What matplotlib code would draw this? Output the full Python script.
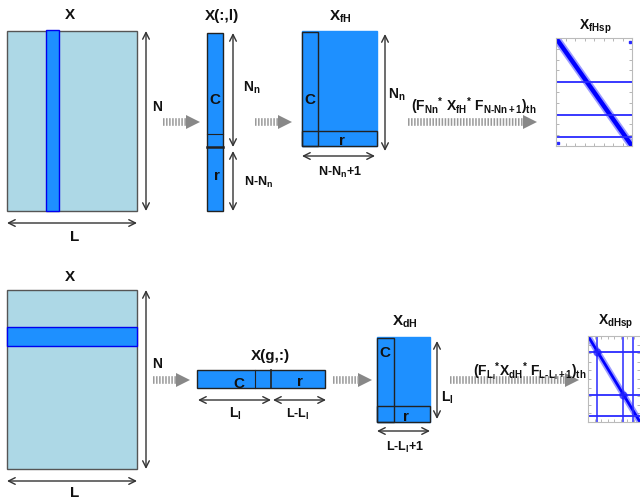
import matplotlib
matplotlib.use('Agg')
import matplotlib.pyplot as plt
from matplotlib.patches import Rectangle, Polygon

plt.rcParams['font.family'] = ['Liberation Sans', 'DejaVu Sans']
plt.rcParams['font.weight'] = 'bold'
plt.rcParams['mathtext.fontset'] = 'custom'
plt.rcParams['mathtext.bf'] = 'Liberation Sans:bold'
plt.rcParams['mathtext.rm'] = 'Liberation Sans:bold'
plt.rcParams['mathtext.it'] = 'Liberation Sans:bold'
plt.rcParams['mathtext.default'] = 'bf'

# labels of the two pipelines
titles_top = ['X', 'X(:,l)', r'$X_{fH}$', r'$X_{fHsp}$']
titles_bot = ['X', 'X(g,:)', r'$X_{dH}$', r'$X_{dHsp}$']
dims_top = ['N', 'L', r'$N_n$', r'$N$-$N_n$', r'$N_n$', r'$N$-$N_n$+1']
dims_bot = ['N', 'L', r'$L_l$', r'$L$-$L_l$', r'$L_l$', r'$L$-$L_l$+1']
formula_top = r'$(F_{Nn}{}^{*}\ X_{fH}{}^{*}\ F_{N\text{-}Nn+1})_{th}$'
formula_bot = r'$(F_{L_l}{}^{*}X_{dH}{}^{*}\ F_{L\text{-}L_l+1})_{th}$'
blocks = ['C', 'r']

# sparse pattern structure (fractions of matrix size)
top_rows = [0.41, 0.71, 0.92]
top_dots = [(0.98, 0.04), (0.02, 0.97)]
bot_rows = [0.19, 0.69, 0.93]
bot_cols = [0.17, 0.67, 0.87]
bot_blobs = [(0.17, 0.19), (0.67, 0.69)]

LB = '#ADD8E6'
DB = '#1E90FF'
DK = '#222222'

fig = plt.figure(figsize=(6.4, 5.02), dpi=100)
ax = fig.add_axes([0, 0, 1, 1])
ax.set_xlim(0, 640)
ax.set_ylim(502, 0)
ax.axis('off')


def rect(x0, y0, x1, y1, fc, ec=DK, lw=1.0, z=1):
    ax.add_patch(Rectangle((x0, y0), x1 - x0, y1 - y0, fc=fc, ec=ec, lw=lw, zorder=z))


def darrow(x0, y0, x1, y1):
    ax.annotate('', xy=(x1, y1), xytext=(x0, y0),
                arrowprops=dict(arrowstyle='<->', color='#333333', lw=1.0,
                                shrinkA=0, shrinkB=0, mutation_scale=12))


def flow(x0, x1, y):
    ax.plot([x0, x1 - 13], [y, y], color='#9a9a9a', lw=5.5, dashes=(0.2, 0.2),
            solid_capstyle='butt')
    ax.add_patch(Polygon([(x1 - 14, y - 7), (x1, y), (x1 - 14, y + 7)],
                         closed=True, fc='#888888', ec='none'))


def txt(x, y, s, size=10, ha='center'):
    ax.text(x, y, s, fontsize=size, ha=ha, va='center', fontweight='bold', color='#111111')


def sparse(px, py, pw, ph, lw_diag, rows, cols=(), dots=(), blobs=(), right=True):
    sa = fig.add_axes([px / 640, (502 - py - ph) / 502, pw / 640, ph / 502])
    sa.set_xlim(0, 1)
    sa.set_ylim(1, 0)
    sa.plot([0.01, 0.99], [0.01, 0.99], color='#3b3bff', lw=lw_diag + 2.5,
            solid_capstyle='round', alpha=0.5)
    sa.plot([0.01, 0.99], [0.01, 0.99], color='#0000ff', lw=lw_diag, solid_capstyle='round')
    for r in rows:
        sa.axhline(r, color='#2a2aff', lw=1.3)
    for c in cols:
        sa.axvline(c, color='#2a2aff', lw=1.1)
    for d in dots:
        sa.plot(*d, 's', color='#2a2aff', ms=1.8)
    for b in blobs:
        sa.plot(*b, 'o', color='#1a1aff', ms=5, alpha=0.6)
    sa.set_xticks([i / 8 for i in range(1, 8)])
    sa.set_yticks([i / 10 for i in range(1, 10)])
    sa.tick_params(direction='in', length=2, width=0.5, colors='#999999',
                   labelleft=False, labelbottom=False, top=True, right=True)
    for s in sa.spines.values():
        s.set_color('#bbbbbb')
        s.set_linewidth(0.8)
    if not right:
        sa.spines['right'].set_visible(False)
    return sa


# ---------- top row ----------
txt(70, 15, titles_top[0], 11)
rect(7, 32, 137, 212, LB, ec='#555555')
rect(46, 31, 59, 212, DB, ec='#0000ee', z=2)
darrow(146, 32, 146, 212)
txt(157, 107, dims_top[0])
darrow(7, 224, 137, 224)
txt(75, 237, dims_top[1], 11)

flow(163, 200, 123)

txt(222, 16, titles_top[1], 11)
rect(207, 34, 223, 212, DB)
ax.plot([207, 223], [135, 135], color=DK, lw=0.8)
ax.plot([207, 223], [148, 148], color=DK, lw=1.8)
txt(215, 100, blocks[0], 11)
txt(217, 176, blocks[1], 11)
darrow(233, 34, 233, 148)
darrow(233, 152, 233, 212)
txt(252, 88, dims_top[2])
txt(259, 182, dims_top[3], 9)

flow(255, 292, 123)

txt(340, 17, titles_top[2], 11)
rect(302, 32, 377, 147, DB, ec=DB)
rect(302, 33, 318, 147, 'none', ec=DK, z=3)
rect(302, 132, 377, 147, 'none', ec=DK, z=3)
txt(310, 100, blocks[0], 11)
txt(342, 141, blocks[1], 11)
darrow(385, 35, 385, 152)
txt(397, 95, dims_top[4])
darrow(302, 157, 375, 157)
txt(340, 172, dims_top[5], 9)

txt(474, 106, formula_top, 10)
flow(408, 537, 123)

txt(595, 27, titles_top[3], 10)
sparse(556, 39, 76, 108, 3.2, top_rows, dots=top_dots)

# ---------- bottom row ----------
txt(70, 277, titles_bot[0], 11)
rect(7, 291, 137, 470, LB, ec='#555555')
rect(7, 328, 137, 347, DB, ec='#0000ee', z=2)
darrow(146, 291, 146, 470)
txt(157, 364, dims_bot[0])
darrow(7, 482, 137, 482)
txt(75, 493, dims_bot[1], 11)

flow(153, 190, 381)

txt(270, 356, titles_bot[1], 11)
rect(197, 371, 325, 389, DB)
ax.plot([255, 255], [371, 389], color=DK, lw=0.8)
ax.plot([271, 271], [371, 389], color=DK, lw=1.2)
txt(239, 384, blocks[0], 11)
txt(300, 382, blocks[1], 11)
darrow(198, 401, 271, 401)
darrow(273, 401, 326, 401)
txt(235, 414, dims_bot[2])
txt(298, 414, dims_bot[3], 9)

flow(333, 372, 381)

txt(405, 322, titles_bot[2], 11)
rect(377, 338, 430, 423, DB, ec=DB)
rect(377, 339, 394, 423, 'none', ec=DK, z=3)
rect(377, 407, 430, 423, 'none', ec=DK, z=3)
txt(385, 353, blocks[0], 11)
txt(406, 417, blocks[1], 11)
darrow(437, 342, 437, 420)
txt(447, 398, dims_bot[4])
darrow(377, 432, 430, 432)
txt(405, 447, dims_bot[5], 9)

txt(530, 372, formula_bot, 10)
flow(450, 579, 381)

txt(598, 322, titles_bot[3], 10, ha='left')
sparse(588, 337, 52, 86, 2.0, bot_rows, cols=bot_cols, blobs=bot_blobs, right=False)

fig.savefig('out.png', dpi=100)
